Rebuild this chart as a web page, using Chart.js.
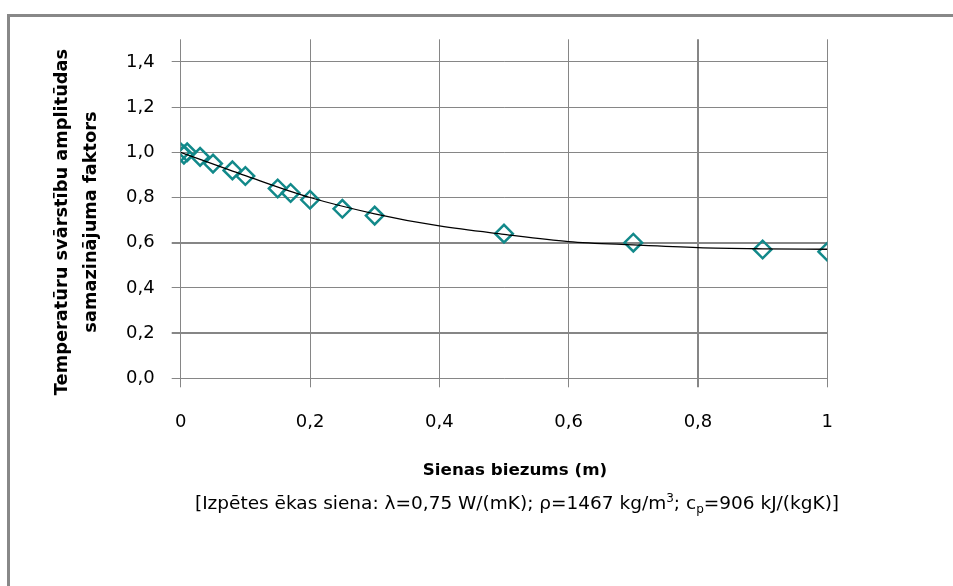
<!DOCTYPE html>
<html>
<head>
<meta charset="utf-8">
<style>
  html, body { margin: 0; padding: 0; background: #fff; }
  #wrap { position: relative; width: 953px; height: 586px; }
</style>
<script src="https://cdn.jsdelivr.net/npm/chart.js@4.4.1/dist/chart.umd.min.js"></script>
</head>
<body>
<div id="wrap"><canvas id="chart" width="953" height="586"></canvas></div>
<script>
// measured points (wall thickness, m / damping factor)
const thickness = [0.0, 0.005, 0.01, 0.03, 0.05, 0.08, 0.10, 0.15, 0.17, 0.20, 0.25, 0.30, 0.50, 0.70, 0.90, 1.00];
const factor    = [1.00, 0.99, 1.00, 0.98, 0.95, 0.92, 0.895, 0.84, 0.82, 0.79, 0.75, 0.72, 0.64, 0.60, 0.57, 0.56];

// smooth calculated curve
const curveX = [0, 0.1, 0.2, 0.3, 0.4, 0.5, 0.6, 0.7, 0.8, 0.9, 1.0];
const curveY = [1.0, 0.897, 0.80, 0.728, 0.674, 0.637, 0.605, 0.59, 0.578, 0.573, 0.571];

const xTicks = [0, 0.2, 0.4, 0.6, 0.8, 1];
const yTicks = [0, 0.2, 0.4, 0.6, 0.8, 1.0, 1.2, 1.4];

const yTitle = ['Temperatūru svārstību amplitūdas', 'samazinājuma faktors'];
const xTitle = 'Sienas biezums (m)';

const FONT = '"DejaVu Sans", sans-serif';
const GRID = '#868686';

const zip = (xs, ys) => xs.map((x, i) => ({ x, y: ys[i] }));

// frame, axis titles and the note line under the x title
const decor = {
    id: 'decor',
    afterDraw(chart) {
        const c = chart.ctx;
        c.save();
        c.fillStyle = '#888888';
        c.fillRect(7, 14, 953 - 7, 3);
        c.fillRect(7, 14, 3, 586 - 14);

        c.fillStyle = '#000';
        c.textAlign = 'center';
        c.textBaseline = 'alphabetic';
        c.font = 'bold 16.7px ' + FONT;
        c.fillText(xTitle, 515, 475);

        // note with sub/superscripts
        const parts = [
            ['[Izpētes ēkas siena: λ=0,75 W/(mK); ρ=1467 kg/m', 0],
            ['3', -1],
            ['; c', 0],
            ['p', 1],
            ['=906 kJ/(kgK)]', 0],
        ];
        const big = '18.5px ' + FONT, small = '12px ' + FONT;
        let w = 0;
        parts.forEach(p => { c.font = p[1] ? small : big; w += c.measureText(p[0]).width; });
        let x = 517 - w / 2;
        c.textAlign = 'left';
        parts.forEach(p => {
            c.font = p[1] ? small : big;
            const dy = p[1] === -1 ? -7 : p[1] === 1 ? 4 : 0;
            c.fillText(p[0], x, 509 + dy);
            x += c.measureText(p[0]).width;
        });

        c.translate(0, 222);
        c.rotate(-Math.PI / 2);
        c.textAlign = 'center';
        c.textBaseline = 'middle';
        c.font = 'bold 17.8px ' + FONT;
        c.fillText(yTitle[0], 0, 62);
        c.fillText(yTitle[1], 0, 91);
        c.restore();
    }
};

new Chart(document.getElementById('chart'), {
    type: 'scatter',
    data: {
        datasets: [
            {
                label: 'curve',
                data: zip(curveX, curveY),
                showLine: true,
                borderColor: '#000',
                borderWidth: 1.3,
                pointRadius: 0,
                cubicInterpolationMode: 'monotone',
                order: 0,
            },
            {
                label: 'points',
                data: zip(thickness, factor),
                pointStyle: 'rectRot',
                pointRadius: 8.8,
                pointBorderWidth: 2.5,
                pointBorderColor: '#12898A',
                pointBackgroundColor: 'rgba(0,0,0,0)',
                showLine: false,
                order: 1,
            },
        ],
    },
    options: {
        responsive: false,
        animation: false,
        events: [],
        layout: { padding: { top: 39.3, right: 125.7, left: 0, bottom: 0 } },
        plugins: {
            legend: { display: false },
            tooltip: { enabled: false },
        },
        scales: {
            x: {
                type: 'linear',
                min: 0,
                max: 1,
                afterFit: s => { s.height = 586 - 378.3; },
                afterBuildTicks: s => { s.ticks = xTicks.map(v => ({ value: v })); },
                border: { display: false },
                grid: {
                    color: GRID,
                    lineWidth: c => (c.tick && Math.abs(c.tick.value - 0.8) < 1e-6 ? 2 : 1),
                    tickLength: 9,
                },
                ticks: {
                    color: '#000',
                    font: { family: FONT, size: 18 },
                    padding: 24,
                    maxRotation: 0,
                    callback: v => (v === 0 || v === 1 ? String(v) : v.toFixed(1).replace('.', ',')),
                },
            },
            y: {
                type: 'linear',
                min: 0,
                max: 1.5,
                afterFit: s => { s.width = 180.7; },
                afterBuildTicks: s => { s.ticks = yTicks.map(v => ({ value: v })); },
                border: { display: false },
                grid: {
                    color: GRID,
                    lineWidth: c => (c.tick && (Math.abs(c.tick.value - 0.2) < 1e-6 || Math.abs(c.tick.value - 0.6) < 1e-6) ? 2 : 1),
                    tickLength: 9,
                },
                ticks: {
                    color: '#000',
                    font: { family: FONT, size: 18 },
                    padding: 17,
                    callback: v => v.toFixed(1).replace('.', ','),
                },
            },
        },
    },
    plugins: [decor],
});
</script>
</body>
</html>
